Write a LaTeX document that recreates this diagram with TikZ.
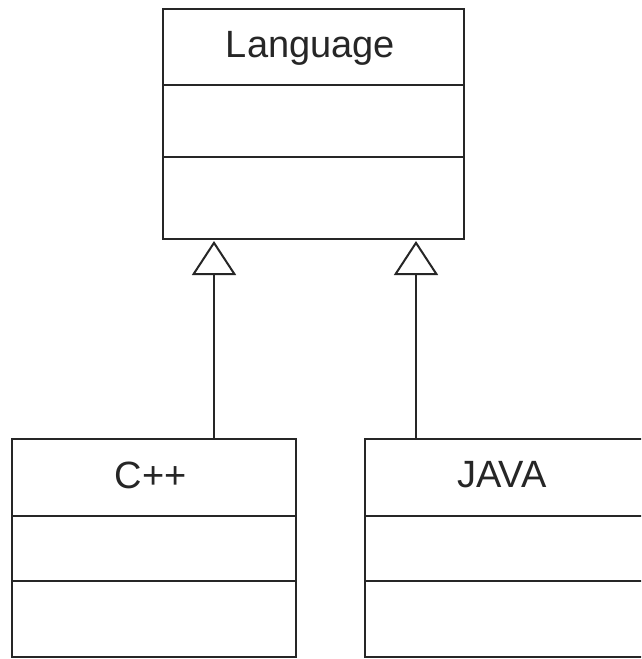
\documentclass[tikz,border=0pt]{standalone}
\usepackage{fontspec}
\setmainfont{Liberation Sans}
\usetikzlibrary{arrows.meta}
\begin{document}
\begin{tikzpicture}[x=1pt,y=-1pt,
  cls/.style={draw=black!85, line width=2.5pt, fill=white, rectangle, inner sep=0pt, outer sep=0pt},
  sep/.style={draw=black!85, line width=2.5pt},
  lbl/.style={font=\fontsize{38}{42}\selectfont, text=black!85, inner sep=0pt, anchor=base},
  inh/.style={draw=black!85, line width=2pt, -{Triangle[open, width=44pt, length=34pt]}}]
\useasboundingbox (0,0) rectangle (641,659);
\fill[white] (0,0) rectangle (641,659);
\begin{scope}
\clip (0,0) rectangle (641,659);
% Language class
\node[cls, minimum width=301pt, minimum height=230pt] (lang) at (313.5,124) {};
\draw[sep] (lang.west |- 0,85) -- (lang.east |- 0,85);
\draw[sep] (lang.west |- 0,157) -- (lang.east |- 0,157);
\node[lbl] (langname) at (310.5,57) {Language};
% C++ class
\node[cls, minimum width=284pt, minimum height=218pt] (cpp) at (154,548) {};
\draw[sep] (cpp.west |- 0,516) -- (cpp.east |- 0,516);
\draw[sep] (cpp.west |- 0,581) -- (cpp.east |- 0,581);
\node[lbl] (cppname) at (150.5,488) {C++};
% JAVA class
\node[cls, minimum width=300pt, minimum height=218pt] (java) at (515,548) {};
\draw[sep] (java.west |- 0,516) -- (java.east |- 0,516);
\draw[sep] (java.west |- 0,581) -- (java.east |- 0,581);
\node[lbl] (javaname) at (502,487) {JAVA};
% generalizations
\draw[inh] ([xshift=202pt]cpp.north west) -- ([xshift=51pt,yshift=-2pt]lang.south west);
\draw[inh] ([xshift=51pt]java.north west) -- ([xshift=253pt,yshift=-2pt]lang.south west);
\end{scope}
\end{tikzpicture}
\end{document}
